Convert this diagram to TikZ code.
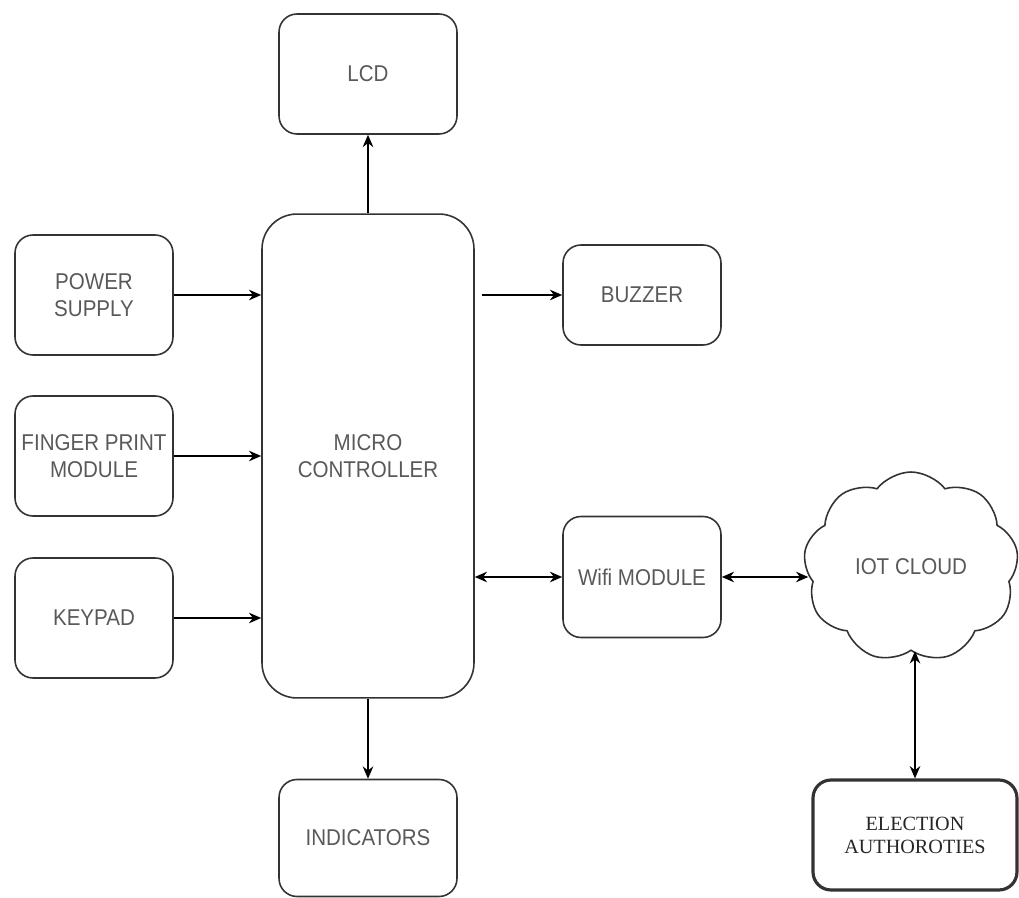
\documentclass[tikz,border=0pt]{standalone}
\usepackage{fontspec}
\setmainfont[FakeStretch=0.9]{Liberation Sans}
\newfontfamily\serifface{Liberation Serif}
\usetikzlibrary{arrows.meta,shapes.symbols}
\tikzset{
  block/.style={draw=black!80, line width=0.9pt, rounded corners=0.36cm, inner sep=1pt,
    align=center, text=black!65, font=\fontsize{13}{15}\selectfont},
  link/.style={line width=0.9pt, -{Stealth[length=7pt,width=6pt]}},
  duplex/.style={line width=0.9pt, {Stealth[length=7pt,width=6pt]}-{Stealth[length=7pt,width=6pt]}}
}
\begin{document}
\begin{tikzpicture}[x=0.02cm,y=-0.02cm]
  \useasboundingbox (0,0) rectangle (1019,898);
  % central controller
  \node[block, minimum width=4.24cm, minimum height=9.68cm, rounded corners=0.7cm] (mc) at (368,456) {MICRO\\CONTROLLER};
  % outputs
  \node[block, minimum width=3.56cm, minimum height=2.4cm] (lcd) at (368,74) {LCD};
  \node[block, minimum width=3.56cm, minimum height=2.34cm] (ind) at (368,838) {INDICATORS};
  \node[block, minimum width=3.16cm, minimum height=2cm] (buz) at (642,295) {BUZZER};
  \node[block, minimum width=3.16cm, minimum height=2.42cm] (wifi) at (642,577) {Wifi MODULE};
  % inputs
  \node[block, minimum width=3.16cm, minimum height=2.4cm] (ps) at (94,295) {POWER\\SUPPLY};
  \node[block, minimum width=3.16cm, minimum height=2.4cm] (fp) at (94,456) {FINGER PRINT\\MODULE};
  \node[block, minimum width=3.16cm, minimum height=2.4cm] (kp) at (94,618) {KEYPAD};
  % cloud side
  \node[draw=black!80, line width=0.9pt, cloud, cloud puffs=9, cloud puff arc=105, aspect=1.1,
    minimum width=4.3cm, minimum height=3.8cm, text=black!65,
    font=\fontsize{13}{15}\selectfont] (iot) at (911,567) {IOT CLOUD};
  \node[block, line width=1.8pt, text=black!85, minimum width=4.08cm, minimum height=2.2cm,
    font=\serifface\fontsize{11.5}{13}\selectfont] (elec) at (915,835) {ELECTION\\AUTHOROTIES};

  \draw[link] (mc.north) -- (lcd.south);
  \draw[link] (mc.south) -- (ind.north);
  \draw[link] (ps.east) -- (ps.east -| mc.west);
  \draw[link] (fp.east) -- (fp.east -| mc.west);
  \draw[link] (kp.east) -- (kp.east -| mc.west);
  \draw[link, shorten <=4pt] (buz.west -| mc.east) -- (buz.west);
  \draw[duplex] (wifi.west -| mc.east) -- (wifi.west);
  \draw[duplex] (wifi.east) -- (wifi.east -| iot.185);
  \draw[duplex] (elec.north |- iot.south) -- (elec.north);
\end{tikzpicture}
\end{document}
